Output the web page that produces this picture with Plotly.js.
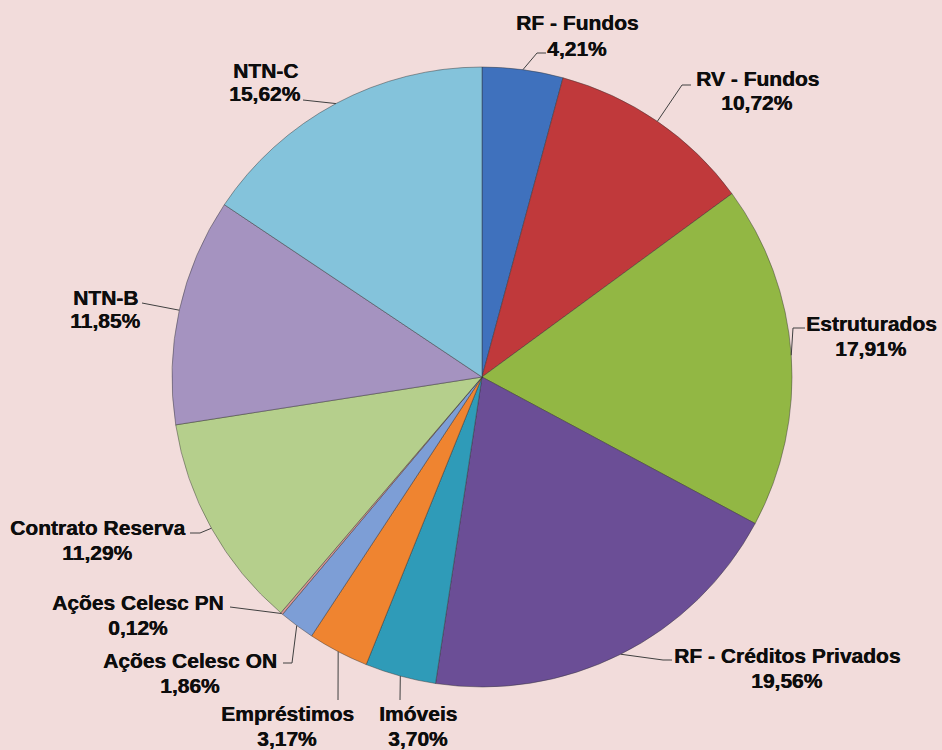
<!DOCTYPE html>
<html>
<head>
<meta charset="utf-8">
<script src="https://cdn.plot.ly/plotly-3.0.1.min.js"></script>
<style>
  html, body { margin: 0; padding: 0; background: #f2dcdb; }
  #chart { width: 942px; height: 750px; }
</style>
</head>
<body>
<div id="chart"></div>
<script>
// ---- data ----
var categories = ["RF - Fundos", "RV - Fundos", "Estruturados", "RF - Créditos Privados",
  "Imóveis", "Empréstimos", "Ações Celesc ON", "Ações Celesc PN",
  "Contrato Reserva", "NTN-B", "NTN-C"];
var shares = [4.21, 10.72, 17.91, 19.56, 3.70, 3.17, 1.86, 0.12, 11.29, 11.85, 15.62];
var sliceColors = ["#3f71bd", "#c0393b", "#92b744", "#6b4e96", "#2f9bb8", "#ef8430",
  "#7d9ed6", "#d99694", "#b5cf8c", "#a593c0", "#84c3db"];

// ---- layout (pixels) ----
var W = 942, H = 750;
var CX = 482, CY = 377, R = 310;
// label text centre [x, y of line 1, y of line 2]
var labelPos = [
  [577, 23, 48], [757, 79, 102], [871, 323, 348], [787, 655, 680],
  [418, 713, 738], [287, 713, 738], [190, 660, 685], [138, 602, 627],
  [97, 527, 552], [105, 297, 320], [265, 70, 93]
];
// leader line route after leaving the slice edge: list of pixel points
var leaderRoute = [
  [[537, 53], [546, 53]], [[682, 85], [691, 85]], [[793, 328], [805, 328]],
  [[663, 660], [672, 660]], [[400, 700]], [[338, 700]], [[292, 663], [283, 663]],
  [[230, 607]], [[200, 533], [190, 533]], [[142, 303]], [[303, 100]]
];

function px(x) { return x / W; }
function py(y) { return 1 - y / H; }
function fmt(v) { return v.toFixed(2).replace('.', ',') + '%'; }

var total = shares.reduce(function (a, b) { return a + b; }, 0);
var annotations = [], shapes = [];
var cum = 0;
var font = { family: 'Liberation Sans, Arial, sans-serif', size: 21, color: '#0d0d0d',
  shadow: '0.45px 0 0 #0d0d0d' };
for (var i = 0; i < shares.length; i++) {
  var mid = (cum + shares[i] / 2) / total * 2 * Math.PI;
  cum += shares[i];
  var sx = CX + R * Math.sin(mid), sy = CY - R * Math.cos(mid);
  var d = 'M ' + px(sx) + ' ' + py(sy);
  leaderRoute[i].forEach(function (p) { d += ' L ' + px(p[0]) + ' ' + py(p[1]); });
  shapes.push({ type: 'path', xref: 'paper', yref: 'paper', path: d,
    line: { color: '#404040', width: 1 } });
  var lp = labelPos[i];
  annotations.push({ xref: 'paper', yref: 'paper', x: px(lp[0]), y: py(lp[1]),
    xanchor: 'center', yanchor: 'middle', showarrow: false,
    text: '<b>' + categories[i] + '</b>', font: font });
  annotations.push({ xref: 'paper', yref: 'paper', x: px(lp[0]), y: py(lp[2]),
    xanchor: 'center', yanchor: 'middle', showarrow: false,
    text: '<b>' + fmt(shares[i]) + '</b>', font: font });
}

var trace = {
  type: 'pie',
  labels: categories,
  values: shares,
  sort: false,
  direction: 'clockwise',
  rotation: 0,
  textinfo: 'none',
  hoverinfo: 'label+percent',
  marker: { colors: sliceColors, line: { color: 'rgba(50,50,50,0.45)', width: 1 } },
  domain: { x: [px(CX - R), px(CX + R)], y: [py(CY + R), py(CY - R)] },
  showlegend: false
};

var layout = {
  width: W, height: H,
  margin: { l: 0, r: 0, t: 0, b: 0 },
  paper_bgcolor: '#f2dcdb',
  plot_bgcolor: '#f2dcdb',
  showlegend: false,
  annotations: annotations,
  shapes: shapes
};

Plotly.newPlot('chart', [trace], layout, { displayModeBar: false, staticPlot: true });
</script>
</body>
</html>
